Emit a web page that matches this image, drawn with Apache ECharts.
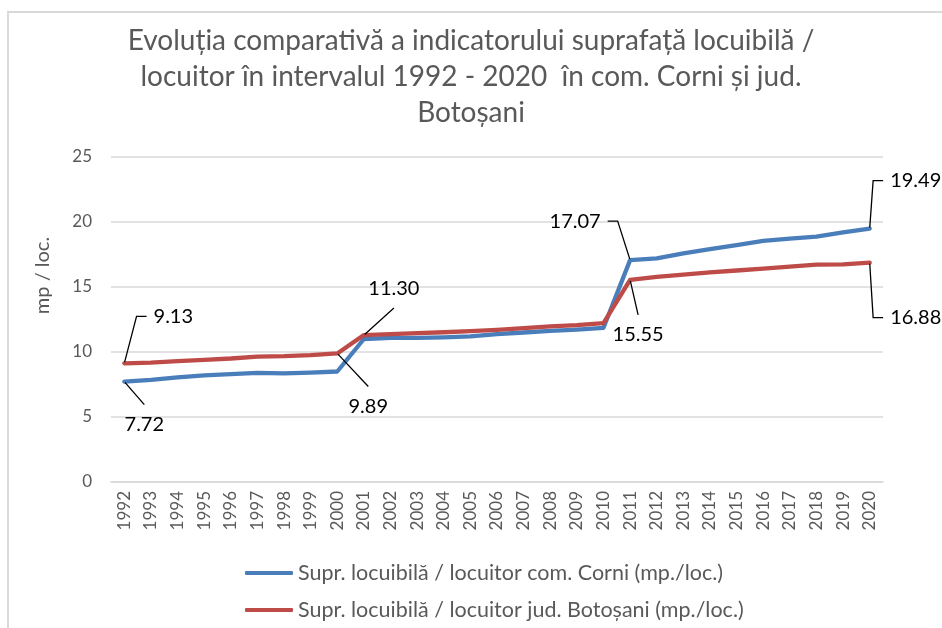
<!DOCTYPE html>
<html>
<head>
<meta charset="utf-8">
<script src="https://cdn.jsdelivr.net/npm/echarts@6/dist/echarts.min.js"></script>
<style>
  html, body { margin: 0; padding: 0; background: #fff; }
  #chart { width: 942px; height: 628px; }
</style>
</head>
<body>
<div id="chart"></div>
<script>
// Years on the category axis
const years = ['1992','1993','1994','1995','1996','1997','1998','1999','2000','2001',
  '2002','2003','2004','2005','2006','2007','2008','2009','2010','2011',
  '2012','2013','2014','2015','2016','2017','2018','2019','2020'];

// Living area per inhabitant, commune Corni (sq m / inhabitant)
const corni = [7.72, 7.85, 8.05, 8.2, 8.3, 8.4, 8.35, 8.42, 8.5, 11.0,
  11.08, 11.08, 11.13, 11.2, 11.38, 11.5, 11.62, 11.72, 11.86, 17.07,
  17.2, 17.58, 17.92, 18.22, 18.55, 18.72, 18.88, 19.2, 19.49];

// Living area per inhabitant, Botoșani county (sq m / inhabitant)
const botosani = [9.13, 9.18, 9.3, 9.4, 9.5, 9.65, 9.68, 9.76, 9.89, 11.30,
  11.38, 11.45, 11.52, 11.6, 11.7, 11.83, 11.97, 12.07, 12.22, 15.55,
  15.78, 15.95, 16.12, 16.27, 16.42, 16.57, 16.72, 16.74, 16.88];

// Which points carry a value label
const corniLabeled = [0, 19, 28];
const botosaniLabeled = [0, 8, 9, 19, 28];

const yTicks = { min: 0, max: 25, interval: 5 };

const seriesNames = [
  'Supr. locuibilă / locuitor com. Corni (mp./loc.)',
  'Supr. locuibilă / locuitor jud. Botoșani (mp./loc.)'
];

const titleText = 'Evoluția comparativă a indicatorului suprafață locuibilă /\n' +
  'locuitor în intervalul 1992 - 2020  în com. Corni și jud.\nBotoșani';

// Callout placement: offset of the label centre from its point, and how the leader attaches
const callouts = {
  '0-0':  { dx: 20, dy: 43, side: false },
  '0-19': { dx: -55, dy: -39, side: true },
  '0-28': { dx: 46, dy: -48, side: true },
  '1-0':  { dx: 49, dy: -47, side: true },
  '1-8':  { dx: 31, dy: 53, side: false },
  '1-9':  { dx: 30, dy: -47, side: false },
  '1-19': { dx: 8, dy: 55, side: false },
  '1-28': { dx: 46, dy: 55, side: true }
};

const FONT = 'Lato';
const GREY = '#595959';
const BLUE = '#4a7ebb';
const RED = '#be4b48';

function buildData(values, labeled, sIdx) {
  return values.map((v, i) => {
    if (labeled.indexOf(i) < 0) return v;
    const c = callouts[sIdx + '-' + i];
    return {
      value: v,
      label: {
        show: true,
        position: 'inside',
        backgroundColor: 'rgba(255,255,255,0)',
        padding: c.side ? [0, 7] : [10, 1],
        formatter: (p) => Number(p.value).toFixed(2)
      },
      labelLine: { show: true, length2: c.side ? 10 : 0 }
    };
  });
}

function lineSeries(name, values, labeled, sIdx, color) {
  return {
    name: name,
    type: 'line',
    data: buildData(values, labeled, sIdx),
    symbol: 'circle',
    symbolSize: 2,
    showSymbol: true,
    showAllSymbol: true,
    itemStyle: { color: color },
    lineStyle: { color: color, width: 4.3, cap: 'round', join: 'round' },
    label: {
      show: false,
      color: '#000',
      fontFamily: FONT,
      fontSize: 20
    },
    labelLine: {
      show: false,
      lineStyle: { color: '#000', width: 1.3 }
    },
    labelLayout: (p) => {
      const c = callouts[sIdx + '-' + p.dataIndex];
      return c ? { dx: c.dx, dy: c.dy } : {};
    },
    emphasis: { disabled: true },
    animation: false
  };
}

function legendRow(name, top) {
  return {
    orient: 'horizontal',
    left: 240,
    top: top,
    itemWidth: 48,
    itemHeight: 4,
    icon: 'roundRect',
    textStyle: { fontFamily: FONT, fontSize: 21.5, color: GREY },
    data: [name]
  };
}

const chart = echarts.init(document.getElementById('chart'), null, { renderer: 'canvas' });

chart.setOption({
  backgroundColor: '#fff',
  animation: false,
  graphic: [{
    type: 'rect',
    shape: { x: 8, y: 12, width: 1000, height: 1000 },
    style: { fill: 'none', stroke: '#d9d9d9', lineWidth: 2 },
    silent: true,
    z: -10
  }],
  title: {
    text: titleText,
    left: 'center',
    top: 18,
    textStyle: {
      fontFamily: FONT,
      fontSize: 28,
      fontWeight: 'normal',
      color: GREY,
      lineHeight: 36
    }
  },
  legend: [
    legendRow(seriesNames[0], 557),
    legendRow(seriesNames[1], 594)
  ],
  grid: { left: 111, right: 59, top: 157, bottom: 146, containLabel: false },
  xAxis: {
    type: 'category',
    data: years,
    boundaryGap: true,
    axisLine: { show: true, lineStyle: { color: '#d9d9d9', width: 1.5 } },
    axisTick: { show: false },
    axisLabel: {
      interval: 0,
      rotate: 90,
      margin: 9,
      fontFamily: FONT,
      fontSize: 17,
      color: GREY
    }
  },
  yAxis: {
    type: 'value',
    min: yTicks.min,
    max: yTicks.max,
    interval: yTicks.interval,
    name: 'mp / loc.',
    nameLocation: 'middle',
    nameGap: 58,
    nameTextStyle: {
      fontFamily: FONT,
      fontSize: 20,
      color: GREY,
      padding: [0, 0, 0, 88]
    },
    axisLine: { show: false },
    axisTick: { show: false },
    axisLabel: { fontFamily: FONT, fontSize: 17, color: GREY, margin: 19 },
    splitLine: { lineStyle: { color: '#d9d9d9', width: 1.5 } }
  },
  series: [
    lineSeries(seriesNames[0], corni, corniLabeled, 0, BLUE),
    lineSeries(seriesNames[1], botosani, botosaniLabeled, 1, RED)
  ]
});
</script>
</body>
</html>
